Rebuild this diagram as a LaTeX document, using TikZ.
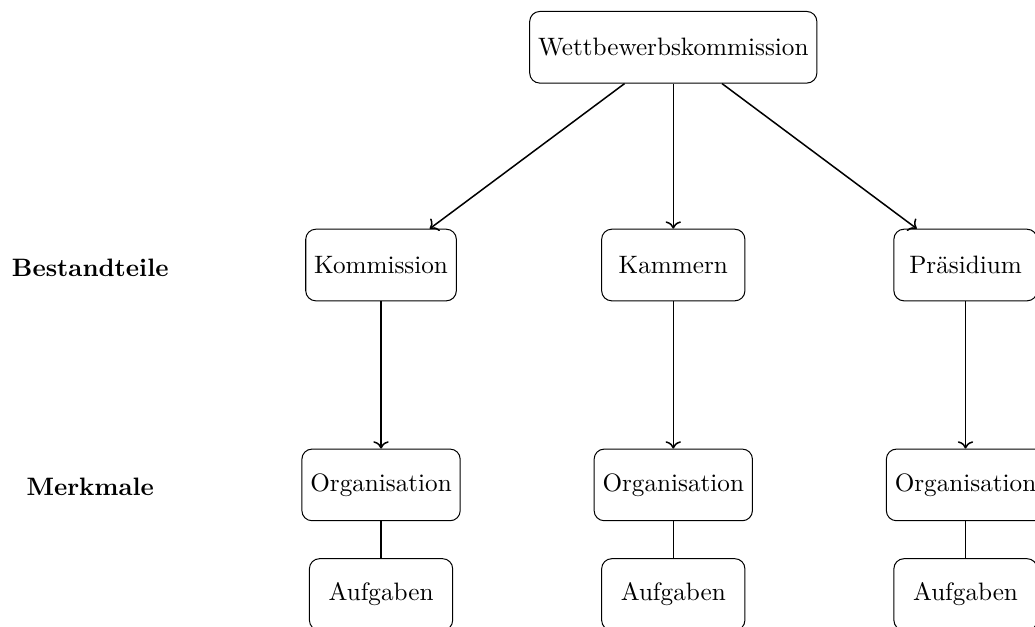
\documentclass[tikz,border=0pt]{standalone}
\usepackage{tikz}
\usetikzlibrary{positioning,arrows.meta}

\begin{document}
\begin{tikzpicture}[
    boxnode/.style={rectangle, rounded corners=4pt, draw, minimum width=2cm, minimum height=1cm, align=center},
    rowlabel/.style={font=\bfseries},
    arrowline/.style={->, semithick},
    plainline/.style={semithick}
]
\clip (0,-8.74) rectangle (14.45,0);

% Root node
\node[boxnode] (wbk) at (9.40, -0.66) {Wettbewerbskommission};

% Bestandteile
\node[boxnode] (komm)  at (5.32,  -3.70) {Kommission};
\node[boxnode] (kamm)  at (9.40,  -3.70) {Kammern};
\node[boxnode] (praes) at (13.48, -3.70) {Präsidium};

\draw[arrowline] (wbk) -- (komm);
\draw[arrowline] (wbk) -- (kamm);
\draw[arrowline] (wbk) -- (praes);

% Merkmale
\node[boxnode] (komm1)  at (5.32,  -6.77) {Organisation};
\node[boxnode] (kamm1)  at (9.40,  -6.77) {Organisation};
\node[boxnode] (praes1) at (13.48, -6.77) {Organisation};

\node[boxnode] (komm2)  at (5.32,  -8.30) {Aufgaben};
\node[boxnode] (kamm2)  at (9.40,  -8.30) {Aufgaben};
\node[boxnode] (praes2) at (13.48, -8.30) {Aufgaben};

\draw[arrowline] (komm) -- (komm1);
\draw[arrowline] (kamm) -- (kamm1);
\draw[arrowline] (praes) -- (praes1);
\draw[plainline] (komm1) -- (komm2);
\draw[plainline] (kamm1) -- (kamm2);
\draw[plainline] (praes1) -- (praes2);

% Row labels
\node[rowlabel] (lbest) at (1.26, -3.74) {Bestandteile};
\node[rowlabel] (lmerk) at (1.26, -6.80) {Merkmale};

\end{tikzpicture}
\end{document}
